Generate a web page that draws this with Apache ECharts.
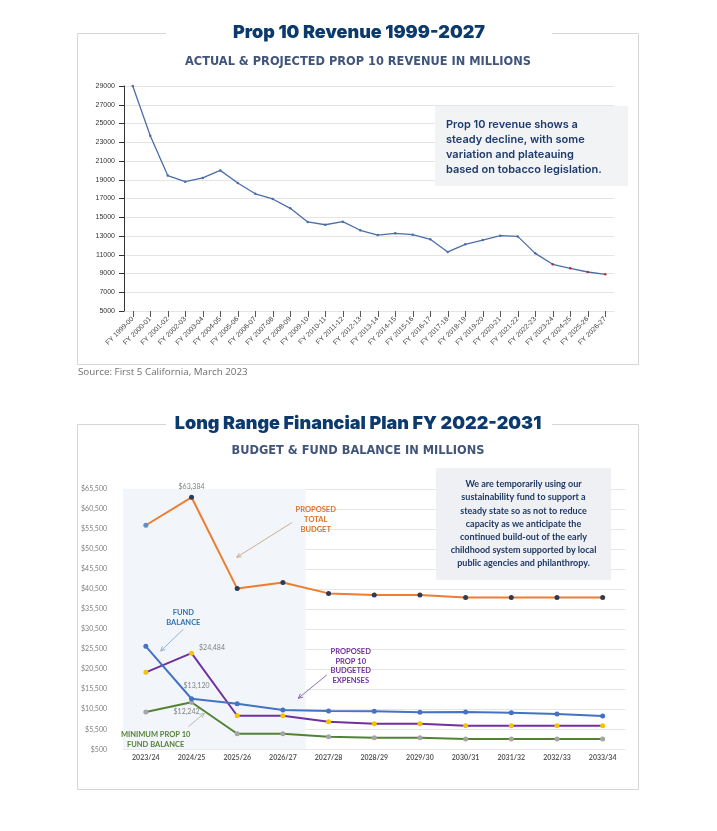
<!DOCTYPE html>
<html>
<head>
<meta charset="utf-8">
<script src="https://cdn.jsdelivr.net/npm/echarts@6/dist/echarts.min.js"></script>
<style>
html,body{margin:0;padding:0;background:#fff;}
#main{width:717px;height:831px;}
</style>
</head>
<body>
<div id="main"></div>
<script>
// ---------- Chart 1 data ----------
const revCategories = ['FY 1999-00','FY 2000-01','FY 2001-02','FY 2002-03','FY 2003-04','FY 2004-05','FY 2005-06','FY 2006-07','FY 2007-08','FY 2008-09','FY 2009-10','FY 2010-11','FY 2011-12','FY 2012-13','FY 2013-14','FY 2014-15','FY 2015-16','FY 2016-17','FY 2017-18','FY 2018-19','FY 2019-20','FY 2020-21','FY 2021-22','FY 2022-23','FY 2023-24','FY 2024-25','FY 2025-26','FY 2026-27'];
const revValues = [29000,23700,19450,18800,19200,20000,18650,17500,16950,15950,14500,14200,14530,13610,13100,13290,13140,12650,11300,12110,12570,13030,12960,11150,9980,9550,9160,8910];
const revProjected = ['FY 2023-24','FY 2024-25','FY 2025-26','FY 2026-27'];

// ---------- Chart 2 data ----------
const fyCategories = ['2023/24','2024/25','2025/26','2026/27','2027/28','2028/29','2029/30','2030/31','2031/32','2032/33','2033/34'];
const totalBudget = [56400,63384,40600,42100,39400,39000,39000,38400,38400,38400,38400];
const fundBalance = [26200,13120,11880,10300,10050,9980,9730,9800,9630,9300,8800];
const budgetedExpenses = [19700,24484,8880,8880,7390,6890,6890,6390,6390,6390,6390];
const minFundBalance = [9800,12242,4390,4390,3640,3390,3390,3070,3070,3070,3070];
const shadedYears = ['2023/24','2024/25','2025/26','2026/27'];
const labeledYear = '2024/25';

const chart = echarts.init(document.getElementById('main'), null, {renderer:'canvas'});

const money = v => '$' + Math.round(v).toLocaleString('en-US');
const LABEL_FONT = 'Lato, "Open Sans", sans-serif';
const TITLE_FONT = 'Inter, "Noto Sans", sans-serif';
const SUB_FONT = '"DejaVu Sans", Inter, sans-serif';

function arrow(x1,y1,x2,y2,color){
  const a = Math.atan2(y2-y1,x2-x1), L = 5, w = 0.45;
  return [
    {type:'line', z:55, shape:{x1,y1,x2,y2}, style:{stroke:color, lineWidth:0.9}},
    {type:'polyline', z:55, shape:{points:[[x2-L*Math.cos(a-w), y2-L*Math.sin(a-w)],[x2,y2],[x2-L*Math.cos(a+w), y2-L*Math.sin(a+w)]]}, style:{stroke:color, fill:null, lineWidth:0.9}}
  ];
}
function txt(x,y,text,opts){
  return {type:'text', x, y, z:60, style:Object.assign({text, fontFamily:LABEL_FONT}, opts)};
}

const revData = revValues.map((v,i)=> revProjected.includes(revCategories[i])
  ? {value:v, itemStyle:{color:'#c0283a'}} : v);

const labelPos = {
  total:{position:'top', offset:[0,0]},
  fund:{position:'top', offset:[5,-2]},
  exp:{position:'right', offset:[0,-5]},
  min:{position:'bottom', offset:[-5,-1]}
};
function withLabel(arr, key, extra){
  return arr.map((v,i)=>{
    const item = {value:v};
    if (extra && extra(i)) item.itemStyle = extra(i);
    if (fyCategories[i] === labeledYear) {
      item.label = Object.assign({show:true, formatter: p => money(p.value), color:'#7f7f7f', fontSize:7, fontFamily:LABEL_FONT, distance:5}, labelPos[key]);
    }
    return item;
  });
}

const splitColors = fyCategories.map(c => shadedYears.includes(c) ? '#f2f6fb' : 'rgba(255,255,255,0)');

const option = {
  animation:false,
  backgroundColor:'#ffffff',
  grid:[
    {left:124, right:103, top:86, bottom:520, containLabel:false},
    {left:123, right:91.5, top:488.8, bottom:81.7, containLabel:false}
  ],
  xAxis:[
    {type:'category', gridIndex:0, data:revCategories, boundaryGap:true,
     axisLine:{show:false}, axisTick:{show:true, alignWithLabel:true, length:6, lineStyle:{color:'#555'}},
     axisLabel:{rotate:45, fontSize:7, color:'#444', margin:7, fontFamily:'"Liberation Sans", Arial, sans-serif', interval:0},
     splitLine:{show:false}},
    {type:'category', gridIndex:1, data:fyCategories, boundaryGap:true,
     axisLine:{show:false}, axisTick:{show:false},
     axisLabel:{fontSize:7, color:'#595959', fontWeight:'bold', margin:5, fontFamily:LABEL_FONT, interval:0},
     splitArea:{show:true, areaStyle:{color:splitColors}},
     splitLine:{show:false}}
  ],
  yAxis:[
    {type:'value', gridIndex:0, min:5000, max:29000, interval:2000,
     axisLine:{show:true, lineStyle:{color:'#333', width:1}},
     axisTick:{show:true, length:5, lineStyle:{color:'#333'}},
     axisLabel:{fontSize:7, color:'#333', margin:9, fontFamily:'"Liberation Sans", Arial, sans-serif', formatter:v=>String(v)},
     splitLine:{show:true, lineStyle:{color:'#e4e4e4', width:1}}},
    {type:'value', gridIndex:1, min:500, max:65500, interval:5000,
     axisLine:{show:false}, axisTick:{show:false},
     axisLabel:{fontSize:7, color:'#808080', margin:16, fontFamily:LABEL_FONT, formatter:v=>money(v)},
     splitLine:{show:true, lineStyle:{color:'#e6e6e6', width:1}}}
  ],
  series:[
    {type:'line', xAxisIndex:0, yAxisIndex:0, data:revData, symbol:'circle', symbolSize:2.5,
     itemStyle:{color:'#4a6ea8'}, lineStyle:{color:'#4a6ea8', width:1.3}, z:3},
    {type:'line', name:'Proposed Total Budget', xAxisIndex:1, yAxisIndex:1,
     data:withLabel(totalBudget,'total', i => i===0 ? {color:'#5b8fd0'} : null),
     symbol:'circle', symbolSize:5, itemStyle:{color:'#2f3b55'}, lineStyle:{color:'#ed7d31', width:2}, z:4},
    {type:'line', name:'Fund Balance', xAxisIndex:1, yAxisIndex:1,
     data:withLabel(fundBalance,'fund'),
     symbol:'circle', symbolSize:5, itemStyle:{color:'#4472c4'}, lineStyle:{color:'#4472c4', width:2}, z:5},
    {type:'line', name:'Proposed Prop 10 Budgeted Expenses', xAxisIndex:1, yAxisIndex:1,
     data:withLabel(budgetedExpenses,'exp'),
     symbol:'circle', symbolSize:5, itemStyle:{color:'#f5c400'}, lineStyle:{color:'#7030a0', width:2}, z:4},
    {type:'line', name:'Minimum Prop 10 Fund Balance', xAxisIndex:1, yAxisIndex:1,
     data:withLabel(minFundBalance,'min'),
     symbol:'circle', symbolSize:5, itemStyle:{color:'#a5a5a5'}, lineStyle:{color:'#548235', width:2}, z:4}
  ],
  graphic:[
    // frames
    {type:'rect', z:-10, shape:{x:77.5, y:33.5, width:561, height:331}, style:{fill:null, stroke:'#d6d6d6', lineWidth:1}},
    {type:'rect', z:-9, shape:{x:166, y:25, width:386, height:16}, style:{fill:'#fff'}},
    {type:'rect', z:-10, shape:{x:77.5, y:424.5, width:561, height:365}, style:{fill:null, stroke:'#d6d6d6', lineWidth:1}},
    {type:'rect', z:-9, shape:{x:166, y:416, width:386, height:16}, style:{fill:'#fff'}},
    // titles
    {type:'text', x:359, y:33, z:60, style:{text:'Prop 10 Revenue 1999-2027', fontFamily:TITLE_FONT, fontWeight:900, fontSize:18, fill:'#0c3a6d', align:'center', verticalAlign:'middle'}},
    {type:'text', x:358, y:62, z:60, style:{text:'ACTUAL & PROJECTED PROP 10 REVENUE IN MILLIONS', fontFamily:SUB_FONT, fontWeight:'bold', fontSize:11.4, fill:'#41547a', align:'center', verticalAlign:'middle'}},
    {type:'text', x:358, y:423.5, z:60, style:{text:'Long Range Financial Plan FY 2022-2031', fontFamily:TITLE_FONT, fontWeight:900, fontSize:18, fill:'#0c3a6d', align:'center', verticalAlign:'middle'}},
    {type:'text', x:358, y:451, z:60, style:{text:'BUDGET & FUND BALANCE IN MILLIONS', fontFamily:SUB_FONT, fontWeight:'bold', fontSize:11.4, fill:'#41547a', align:'center', verticalAlign:'middle'}},
    // source
    {type:'text', x:78, y:372, z:60, style:{text:'Source: First 5 California, March 2023', fontFamily:'"Open Sans", sans-serif', fontSize:9.8, fill:'#6f6f6f', align:'left', verticalAlign:'middle'}},
    // annotation box 1
    {type:'rect', z:40, shape:{x:435, y:106, width:193, height:80}, style:{fill:'#f1f3f5'}},
    {type:'text', x:446, y:116.7, z:60, style:{text:'Prop 10 revenue shows a\nsteady decline, with some\nvariation and plateauing\nbased on tobacco legislation.', fontFamily:TITLE_FONT, fontWeight:600, fontSize:11, lineHeight:15.2, fill:'#1d3b6c', align:'left', verticalAlign:'top'}},
    // annotation box 2
    {type:'rect', z:40, shape:{x:436, y:468, width:175, height:112}, style:{fill:'#eef0f3'}},
    {type:'text', x:523.5, y:477.7, z:60, style:{text:'We are temporarily using our\nsustainability fund to support a\nsteady state so as not to reduce\ncapacity as we anticipate the\ncontinued build-out of the early\nchildhood system supported by local\npublic agencies and philanthropy.', fontFamily:LABEL_FONT, fontWeight:'bold', fontSize:9, lineHeight:13.2, fill:'#1f3864', align:'center', verticalAlign:'top'}},
    // series annotations
    txt(315.7, 504.7, 'PROPOSED\nTOTAL\nBUDGET', {fontWeight:'bold', fontSize:7.5, lineHeight:9.8, fill:'#e0702a', align:'center', verticalAlign:'top'}),
    ...arrow(291.7,522.7,236.7,557.3,'#c8a487'),
    txt(183.3, 607.3, 'FUND\nBALANCE', {fontWeight:'bold', fontSize:7.5, lineHeight:10, fill:'#2e75b6', align:'center', verticalAlign:'top'}),
    ...arrow(183.3,629.3,160.7,651,'#8fa9c9'),
    txt(350.7, 646.5, 'PROPOSED\nPROP 10\nBUDGETED\nEXPENSES', {fontWeight:'bold', fontSize:7.5, lineHeight:9.8, fill:'#7030a0', align:'center', verticalAlign:'top'}),
    ...arrow(326.7,675,298.3,698.3,'#7f5fa5'),
    txt(155.7, 729.5, 'MINIMUM PROP 10\nFUND BALANCE', {fontWeight:'bold', fontSize:7.5, lineHeight:9.8, fill:'#548235', align:'center', verticalAlign:'top'}),
    ...arrow(188.3,726.7,204.3,713.3,'#a9b8a5')
  ]
};
chart.setOption(option);
</script>
</body>
</html>
